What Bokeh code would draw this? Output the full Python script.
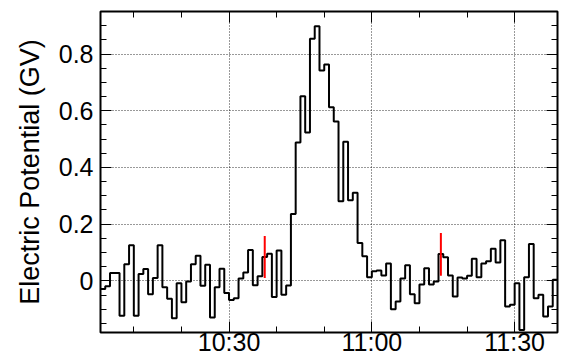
import pandas as pd
from bokeh.plotting import figure
from bokeh.models import (FixedTicker, DatetimeTickFormatter, LinearAxis, Range1d,
                          CustomJSTickFormatter)
from bokeh.embed import file_html
from bokeh.resources import INLINE

# ---------------- data ----------------
start_time = "2000-01-01 10:03"
bin_minutes = 1
potential_gv = [
    -0.029, -0.019, 0.028, 0.028, -0.123, 0.059, 0.126, -0.123, 0.024, 0.042,
    -0.047, 0.010, 0.126, -0.022, -0.063, -0.132, -0.008, -0.075, -0.002, 0.059,
    0.089, -0.017, 0.057, -0.129, -0.022, 0.043, -0.043, -0.067, -0.061, 0.008,
    0.030, 0.109, -0.015, 0.016, 0.084, 0.096, -0.057, 0.107, -0.049, -0.016,
    0.236, 0.488, 0.651, 0.523, 0.854, 0.898, 0.742, 0.763, 0.612, 0.562,
    0.281, 0.491, 0.284, 0.311, 0.134, 0.087, 0.013, 0.034, 0.037, 0.019,
    0.061, -0.100, -0.073, 0.008, 0.055, -0.047, -0.079, -0.013, 0.045, -0.013,
    -0.002, 0.095, 0.083, 0.019, -0.055, 0.012, 0.008, 0.018, 0.078, 0.013,
    0.061, 0.069, 0.113, 0.065, 0.143, -0.090, -0.084, -0.008, -0.173, 0.013,
    0.130, -0.061, -0.049, -0.126, -0.090, 0.004,
]
marker_times = ["2000-01-01 10:37:30", "2000-01-01 11:14:30"]
marker_low = [0.010, 0.018]
marker_high = [0.158, 0.169]
x_major_ticks = ["2000-01-01 10:30", "2000-01-01 11:00", "2000-01-01 11:30"]
y_major_ticks = [0, 0.2, 0.4, 0.6, 0.8]
y_limits = (-0.182, 0.950)

# ---------------- build ----------------
edges = pd.date_range(start_time, periods=len(potential_gv) + 1, freq=f"{bin_minutes}min")
step_y = potential_gv + [potential_gv[-1]]

def ms(t):
    return pd.Timestamp(t).value // 10**6

x0 = ms(edges[0]); x1 = ms(edges[-1])
major_x = [ms(t) for t in x_major_ticks]
minor_x = [ms(t) for t in pd.date_range("2000-01-01 10:10", "2000-01-01 11:30", freq="10min")]
minor_y = [round(-0.15 + 0.05 * k, 2) for k in range(22)]

FONT = "Liberation Sans"

p = figure(width=563, height=358, x_axis_type="datetime", output_backend="svg",
           toolbar_location=None, x_range=Range1d(x0, x1), y_range=Range1d(*y_limits),
           min_border_left=100, min_border_top=11, min_border_right=6, min_border_bottom=0)
p.background_fill_color = "white"
p.border_fill_color = "white"
p.outline_line_color = "black"
p.outline_line_width = 2

p.step(x=list(edges), y=step_y, mode="after", line_color="black", line_width=2)
p.segment(x0=[pd.Timestamp(t) for t in marker_times], x1=[pd.Timestamp(t) for t in marker_times],
          y0=marker_low, y1=marker_high, line_color="red", line_width=2)

xt = FixedTicker(ticks=major_x, minor_ticks=minor_x)
yt = FixedTicker(ticks=y_major_ticks, minor_ticks=minor_y)

xa = p.xaxis[0]
xa.ticker = xt
xa.formatter = DatetimeTickFormatter(minutes="%H:%M", hourmin="%H:%M", hours="%H:%M",
                                     minsec="%H:%M", seconds="%H:%M", days="%H:%M")
ya = p.yaxis[0]
ya.ticker = yt
ya.axis_label = "Electric Potential (GV)"

for ax in (xa, ya):
    ax.major_tick_in = 11
    ax.major_tick_out = 0
    ax.minor_tick_in = 6
    ax.minor_tick_out = 0
    ax.axis_line_color = None
    ax.major_tick_line_color = "black"
    ax.minor_tick_line_color = "black"
    ax.major_tick_line_width = 1
    ax.minor_tick_line_width = 1
    ax.major_label_text_font = FONT
    ax.major_label_text_font_size = "25px"
    ax.major_label_text_color = "black"
xa.major_label_standoff = -5
ya.major_label_standoff = 7
ya.axis_label_text_font = FONT
ya.axis_label_text_font_size = "27px"
ya.axis_label_text_font_style = "normal"
ya.axis_label_text_color = "black"
ya.axis_label_standoff = 11

# mirrored tick axes (ticks only)
for loc, tk in (("above", xt), ("right", yt)):
    ax = LinearAxis(ticker=tk, major_tick_in=11, major_tick_out=0, minor_tick_in=6,
                    minor_tick_out=0, axis_line_color=None,
                    formatter=CustomJSTickFormatter(code="return ''"),
                    major_label_text_font_size="1px", major_label_standoff=0,
                    major_tick_line_color="black", minor_tick_line_color="black")
    p.add_layout(ax, loc)

for g in (p.xgrid[0], p.ygrid[0]):
    g.grid_line_color = "black"
    g.grid_line_alpha = 0.8
    g.grid_line_dash = "1 2"
    g.grid_line_width = 1
p.xgrid[0].ticker = xt
p.ygrid[0].ticker = yt

open("out.html", "w").write(file_html(p, INLINE))
